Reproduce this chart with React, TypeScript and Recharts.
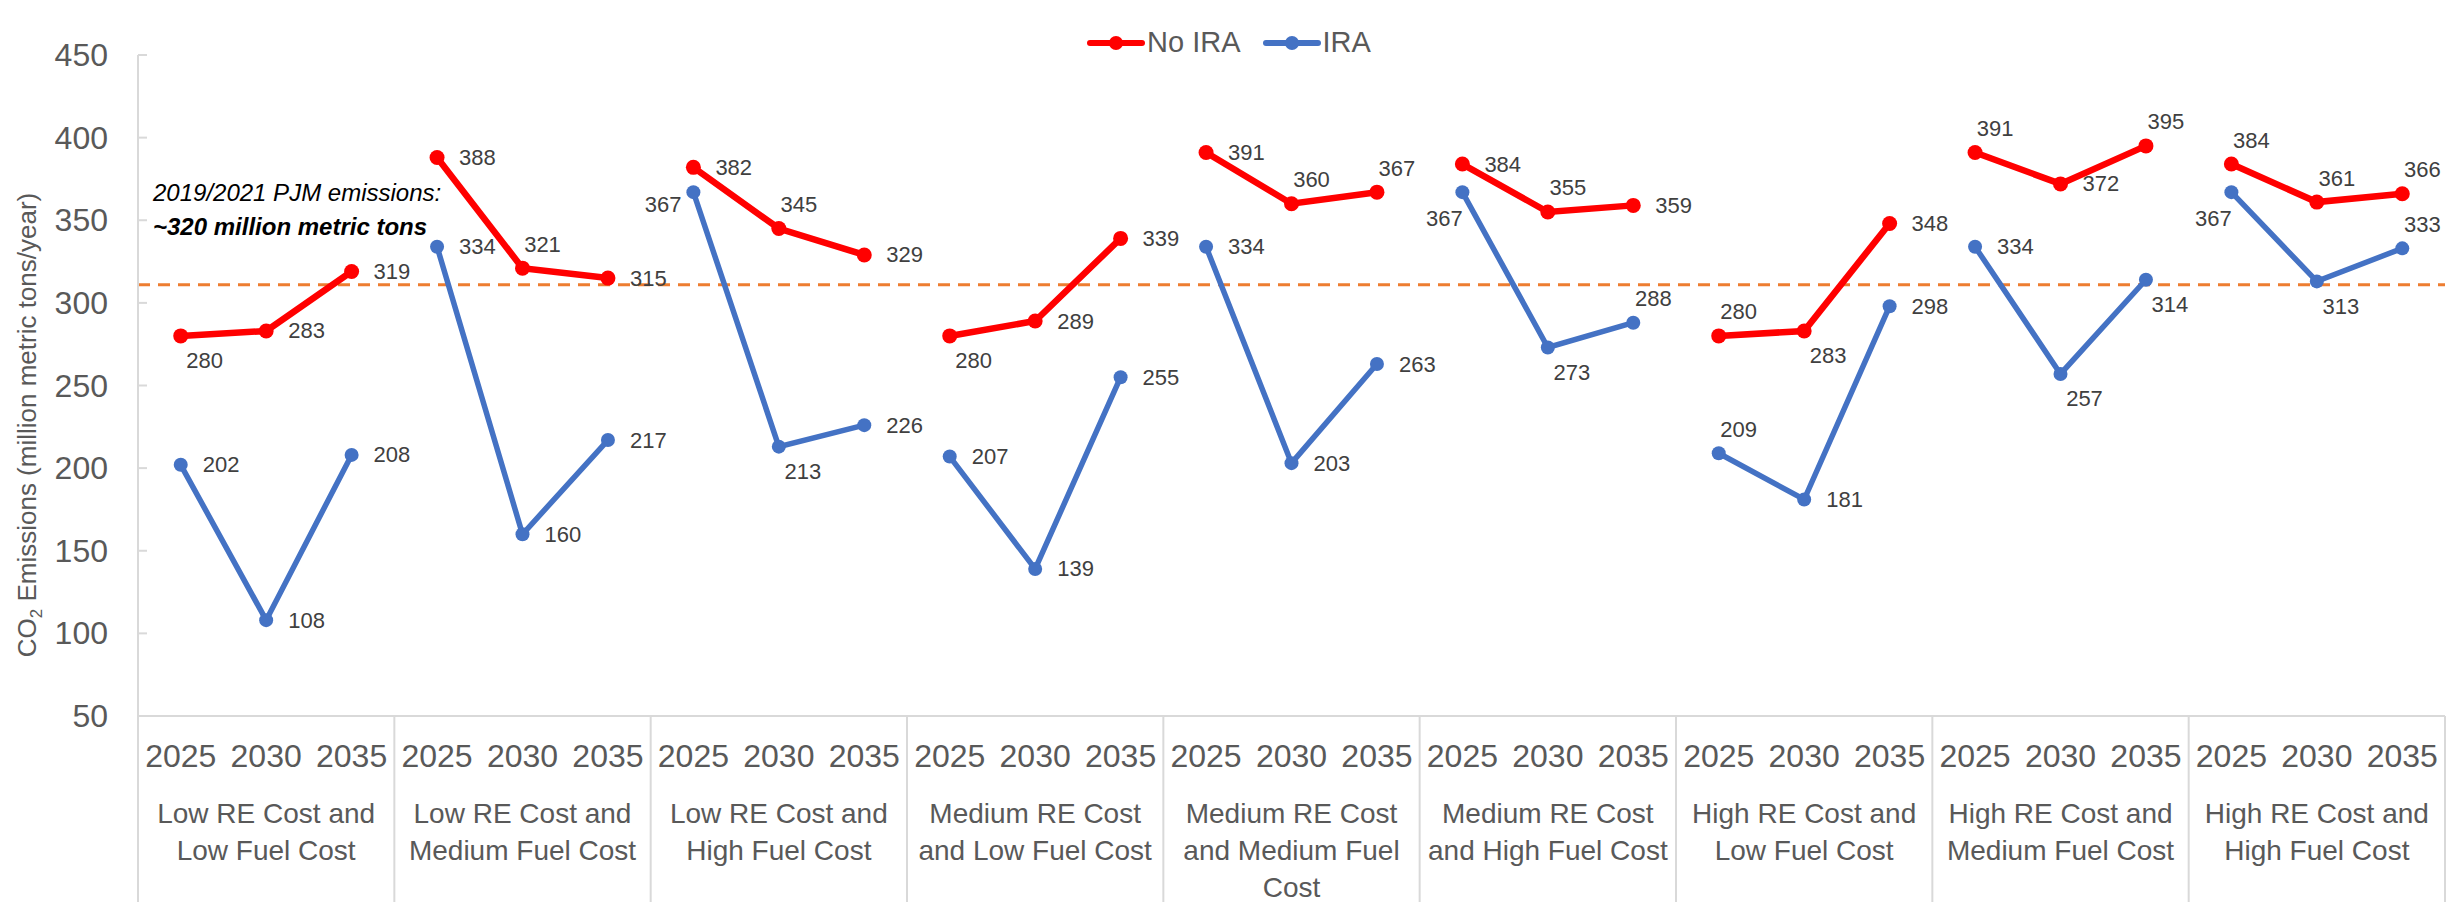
import React from "react"
import {
  CartesianGrid,
  Customized,
  Legend,
  Line,
  LineChart,
  ReferenceLine,
  XAxis,
  YAxis,
} from "recharts"

// scenario groups, each label already split into its display lines
const groupLabels: string[][] = [
  ["Low RE Cost and", "Low Fuel Cost"],
  ["Low RE Cost and", "Medium Fuel Cost"],
  ["Low RE Cost and", "High Fuel Cost"],
  ["Medium RE Cost", "and Low Fuel Cost"],
  ["Medium RE Cost", "and Medium Fuel", "Cost"],
  ["Medium RE Cost", "and High Fuel Cost"],
  ["High RE Cost and", "Low Fuel Cost"],
  ["High RE Cost and", "Medium Fuel Cost"],
  ["High RE Cost and", "High Fuel Cost"],
]
const years = ["2025", "2030", "2035"]

const noIra = [280, 283, 319, 388, 321, 315, 382, 345, 329, 280, 289, 339, 391, 360, 367, 384, 355, 359, 280, 283, 348, 391, 372, 395, 384, 361, 366]
const ira = [202, 108, 208, 334, 160, 217, 367, 213, 226, 207, 139, 255, 334, 203, 263, 367, 273, 288, 209, 181, 298, 334, 257, 314, 367, 313, 333]

// where each data label sits relative to its point: r=right, a=above, b=below, l=left, bl=below-left
const noIraLabelPos = ["b", "r", "r", "r", "a", "r", "r", "a", "r", "b", "r", "r", "r", "a", "a", "r", "a", "r", "a", "b", "r", "a", "r", "a", "a", "a", "a"]
const iraLabelPos = ["r", "r", "r", "r", "r", "r", "l", "b", "r", "r", "r", "r", "r", "r", "r", "bl", "b", "a", "a", "r", "r", "r", "b", "b", "bl", "b", "a"]

const yTicks = [50, 100, 150, 200, 250, 300, 350, 400, 450]
const baseline2019 = 311

const W = 2458
const H = 902
const M = { top: 22, right: 13, left: 0, bottom: 0 }
const Y_W = 138
const X_H = 186
const BAND = (W - Y_W - M.right) / noIra.length

const RED = "#FF0000"
const BLUE = "#4472C4"
const GREY = "#595959"
const AXIS = "#D9D9D9"
const FONT = "'Liberation Sans', Arial, sans-serif"

const rows = noIra.map((v, i) => ({
  key: String(i),
  year: years[i % 3],
  group: Math.floor(i / 3),
  noIra: v,
  ira: ira[i],
}))

function makeLabel(pos: string[]) {
  return (p: any) => {
    if (p.value == null || p.x == null || p.y == null) return null
    const code = pos[p.index]
    let x = p.x + 22
    let y = p.y
    let anchor: "start" | "middle" | "end" = "start"
    if (code === "a") { x = p.x + 20; y = p.y - 24; anchor = "middle" }
    if (code === "b") { x = p.x + 24; y = p.y + 25; anchor = "middle" }
    if (code === "bl") { x = p.x - 18; y = p.y + 26; anchor = "middle" }
    if (code === "l") { x = p.x - 12; y = p.y + 12; anchor = "end" }
    return (
      <text key={`lb-${p.index}`} x={x} y={y} textAnchor={anchor} dominantBaseline="central"
        fontSize={22} fill="#404040" fontFamily={FONT}>
        {p.value}
      </text>
    )
  }
}

function YTick({ x, y, payload }: any) {
  return (
    <g>
      <line x1={x + 30} x2={x + 39} y1={y} y2={y} stroke={AXIS} strokeWidth={2} />
      <text x={x} y={y} textAnchor="end" dominantBaseline="central" fontSize={32} fill={GREY} fontFamily={FONT}>
        {payload.value}
      </text>
    </g>
  )
}

function XTick({ x, y, index }: any) {
  const pos = index % 3
  const g = Math.floor(index / 3)
  return (
    <g>
      {pos === 0 && <line x1={x - BAND / 2} x2={x - BAND / 2} y1={y} y2={H} stroke={AXIS} strokeWidth={2} />}
      {index === noIra.length - 1 && <line x1={x + BAND / 2} x2={x + BAND / 2} y1={y} y2={H} stroke={AXIS} strokeWidth={2} />}
      <text x={x} y={y + 51} textAnchor="middle" fontSize={32} fill={GREY} fontFamily={FONT}>
        {years[pos]}
      </text>
      {pos === 1 && groupLabels[g].map((ln, k) => (
        <text key={k} x={x} y={y + 107 + k * 37} textAnchor="middle" fontSize={28} fill={GREY} fontFamily={FONT}>
          {ln}
        </text>
      ))}
    </g>
  )
}

function LegendBox() {
  const item = (color: string, text: string, gap: number) => (
    <div style={{ display: "flex", alignItems: "center", marginRight: gap }}>
      <svg width={58} height={20}>
        <line x1={3} x2={55} y1={10} y2={10} stroke={color} strokeWidth={6} strokeLinecap="round" />
        <circle cx={29} cy={10} r={7} fill={color} />
      </svg>
      <span style={{ fontSize: 29, color: GREY, fontFamily: FONT, marginLeft: 2 }}>{text}</span>
    </div>
  )
  return (
    <div style={{ display: "flex", justifyContent: "center", width: W }}>
      {item(RED, "No IRA", 22)}
      {item(BLUE, "IRA", 0)}
    </div>
  )
}

function Overlay() {
  return (
    <g fontFamily={FONT}>
      <text transform="translate(36,425) rotate(-90)" textAnchor="middle" fontSize={26} fill={GREY}>
        CO<tspan fontSize={17} dy={6}>2</tspan><tspan dy={-6}> Emissions (million metric tons/year)</tspan>
      </text>
      <text x={153} y={201} fontSize={24} fontStyle="italic" fill="#000">2019/2021 PJM emissions:</text>
      <text x={153} y={235} fontSize={24} fontStyle="italic" fontWeight="bold" fill="#000">~320 million metric tons</text>
    </g>
  )
}

export default function App() {
  return (
    <div style={{ position: "absolute", left: 0, top: 0, background: "#fff" }}>
      <LineChart width={W} height={H} data={rows} margin={M}>
        <CartesianGrid horizontal={false} vertical={false} />
        <XAxis
          dataKey="key"
          scale="band"
          interval={0}
          height={X_H}
          tickLine={false}
          tickSize={0}
          tickMargin={0}
          axisLine={{ stroke: AXIS, strokeWidth: 2 }}
          tick={<XTick />}
        />
        <YAxis
          domain={[50, 450]}
          ticks={yTicks}
          width={Y_W}
          tickLine={false}
          tickSize={0}
          tickMargin={30}
          axisLine={{ stroke: AXIS, strokeWidth: 2 }}
          tick={<YTick />}
        />
        <ReferenceLine y={baseline2019} stroke="#ED7D31" strokeWidth={3} strokeDasharray="12 8" />
        <Legend verticalAlign="top" wrapperStyle={{ top: 26, left: 0, width: W }} content={() => <LegendBox />} />
        {groupLabels.map((_, g) => (
          <Line
            key={`ira-${g}`}
            dataKey={(d: any) => (d.group === g ? d.ira : null)}
            name="IRA"
            stroke={BLUE}
            strokeWidth={5.5}
            dot={{ r: 7, fill: BLUE, stroke: BLUE, strokeWidth: 0 }}
            activeDot={false}
            connectNulls={false}
            isAnimationActive={false}
            label={makeLabel(iraLabelPos)}
          />
        ))}
        {groupLabels.map((_, g) => (
          <Line
            key={`noira-${g}`}
            dataKey={(d: any) => (d.group === g ? d.noIra : null)}
            name="No IRA"
            stroke={RED}
            strokeWidth={6.5}
            dot={{ r: 7.5, fill: RED, stroke: RED, strokeWidth: 0 }}
            activeDot={false}
            connectNulls={false}
            isAnimationActive={false}
            label={makeLabel(noIraLabelPos)}
          />
        ))}
        <Customized component={Overlay} />
      </LineChart>
    </div>
  )
}
